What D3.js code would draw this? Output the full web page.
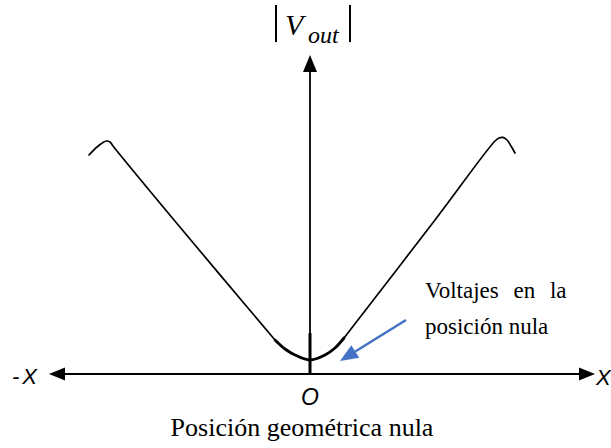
<!DOCTYPE html>
<html>
<head>
<meta charset="utf-8">
<script src="https://cdn.jsdelivr.net/npm/d3@7/dist/d3.min.js"></script>
<style>
  html, body { margin: 0; padding: 0; background: #fff; }
  svg { display: block; }
</style>
</head>
<body>
<svg id="chart" width="611" height="448"></svg>
<script>
// Sensor response |Vout| against core displacement x (arbitrary units).
// Left arm: from the far-left turnover down to the edge of the null region.
const leftArm = [
  [-11.05, 10.95], [-10.65, 11.35], [-10.35, 11.58], [-10.18, 11.65],
  [-10.0, 11.6], [-9.85, 11.4], [-6.8, 7.7], [-1.75, 1.7]
];
// Null-region minimum (residual voltage around x = 0).
const nullRegion = [
  [-1.75, 1.7], [-1.25, 1.25], [-0.75, 0.95], [0, 0.7],
  [0.75, 0.95], [1.25, 1.3], [1.7, 1.8]
];
// Right arm: from the null region up to the far-right turnover.
const rightArm = [
  [1.7, 1.8], [6.25, 7.7], [9.25, 11.65], [9.45, 11.8],
  [9.65, 11.83], [9.85, 11.7], [10.05, 11.4], [10.25, 11.05]
];
// Axis extents in the same units.
const xAxisExtent = [-13.05, 14.25];
const yAxisTop = 15.95;
const axisLabels = { left: "-X", right: "X", origin: "O" };
const xTitle = "Posición geométrica nula";
const noteLines = ["Voltajes en la", "posición nula"];

const svg = d3.select("#chart");

const x = d3.scaleLinear().domain([0, 1]).range([310, 330]);
const y = d3.scaleLinear().domain([0, 1]).range([374, 354]);

const line = d3.line()
  .x(d => x(d[0]))
  .y(d => y(d[1]))
  .curve(d3.curveCatmullRom.alpha(0.5));

// Axes
const axisG = svg.append("g");
axisG.append("line")
  .attr("x1", x(xAxisExtent[0]) + 12).attr("x2", x(xAxisExtent[1]) - 12)
  .attr("y1", y(0)).attr("y2", y(0))
  .attr("stroke", "#000").attr("stroke-width", 2);
axisG.append("line")
  .attr("x1", x(0)).attr("x2", x(0))
  .attr("y1", y(0)).attr("y2", y(yAxisTop) + 12)
  .attr("stroke", "#000").attr("stroke-width", 1.8);
// thicker stub marking the zero position
axisG.append("line")
  .attr("x1", x(0)).attr("x2", x(0))
  .attr("y1", y(0)).attr("y2", y(2.05))
  .attr("stroke", "#000").attr("stroke-width", 3);

// Arrowheads
const xl = x(xAxisExtent[0]), xr = x(xAxisExtent[1]), y0 = y(0);
axisG.append("path")
  .attr("d", `M${xl},${y0} L${xl + 16},${y0 - 6.5} L${xl + 16},${y0 + 6.5} Z`)
  .attr("fill", "#000");
axisG.append("path")
  .attr("d", `M${xr},${y0} L${xr - 16},${y0 - 6.5} L${xr - 16},${y0 + 6.5} Z`)
  .attr("fill", "#000");
const yt = y(yAxisTop), x0 = x(0);
axisG.append("path")
  .attr("d", `M${x0},${yt} L${x0 - 7},${yt + 17} L${x0 + 7},${yt + 17} Z`)
  .attr("fill", "#000");

// Response curve
svg.append("path").datum(leftArm).attr("d", line)
  .attr("fill", "none").attr("stroke", "#000").attr("stroke-width", 1.7)
  .attr("stroke-linejoin", "round").attr("stroke-linecap", "round");
svg.append("path").datum(rightArm).attr("d", line)
  .attr("fill", "none").attr("stroke", "#000").attr("stroke-width", 1.7)
  .attr("stroke-linejoin", "round").attr("stroke-linecap", "round");
svg.append("path").datum(nullRegion).attr("d", line)
  .attr("fill", "none").attr("stroke", "#000").attr("stroke-width", 2.8)
  .attr("stroke-linecap", "round");

// Y axis title |V_out|
const yTitle = svg.append("g");
yTitle.append("line").attr("x1", 276).attr("x2", 276).attr("y1", 5).attr("y2", 42)
  .attr("stroke", "#000").attr("stroke-width", 2);
yTitle.append("line").attr("x1", 350).attr("x2", 350).attr("y1", 5).attr("y2", 42)
  .attr("stroke", "#000").attr("stroke-width", 2);
const vt = yTitle.append("text")
  .attr("x", 285).attr("y", 35)
  .attr("font-family", "Liberation Serif, serif")
  .attr("font-style", "italic")
  .attr("font-size", 30)
  .attr("fill", "#000");
vt.append("tspan").text("V");
vt.append("tspan").attr("x", 308).attr("y", 43).attr("font-size", 24).text("out");

// Axis end labels
const sansItalic = { family: "Liberation Sans, sans-serif", style: "italic" };
svg.append("text").attr("x", 12).attr("y", 384)
  .attr("font-family", sansItalic.family).attr("font-style", sansItalic.style)
  .attr("font-size", 22).attr("letter-spacing", 3).text(axisLabels.left);
svg.append("text").attr("x", 596).attr("y", 385)
  .attr("font-family", sansItalic.family).attr("font-style", sansItalic.style)
  .attr("font-size", 22).text(axisLabels.right);
svg.append("text").attr("x", 310).attr("y", 405).attr("text-anchor", "middle")
  .attr("font-family", sansItalic.family).attr("font-style", sansItalic.style)
  .attr("font-size", 23).text(axisLabels.origin);

// X axis title
svg.append("text").attr("x", 302).attr("y", 436).attr("text-anchor", "middle")
  .attr("font-family", "Liberation Serif, serif").attr("font-size", 26)
  .text(xTitle);

// Annotation for the null voltage
const note1 = svg.append("text").attr("x", 425).attr("y", 298)
  .attr("font-family", "Liberation Serif, serif").attr("font-size", 23)
  .text(noteLines[0]);
// justify the first line to the block width
const natural = note1.node().getComputedTextLength();
const gaps = noteLines[0].split(" ").length - 1;
note1.attr("word-spacing", Math.max(0, (141.5 - natural) / gaps));
svg.append("text").attr("x", 425).attr("y", 334)
  .attr("font-family", "Liberation Serif, serif").attr("font-size", 23)
  .text(noteLines[1]);

// Blue pointer arrow
const blue = "#4472C4";
const ax1 = 406, ay1 = 320, ax2 = 340, ay2 = 361;
const ang = Math.atan2(ay2 - ay1, ax2 - ax1);
const hl = 18, hw = 7.5;
const bx = ax2 - hl * Math.cos(ang), by = ay2 - hl * Math.sin(ang);
svg.append("line").attr("x1", ax1).attr("y1", ay1).attr("x2", bx).attr("y2", by)
  .attr("stroke", blue).attr("stroke-width", 2.6);
svg.append("path")
  .attr("d", `M${ax2},${ay2} L${bx + hw * Math.sin(ang)},${by - hw * Math.cos(ang)} L${bx - hw * Math.sin(ang)},${by + hw * Math.cos(ang)} Z`)
  .attr("fill", blue);
</script>
</body>
</html>
